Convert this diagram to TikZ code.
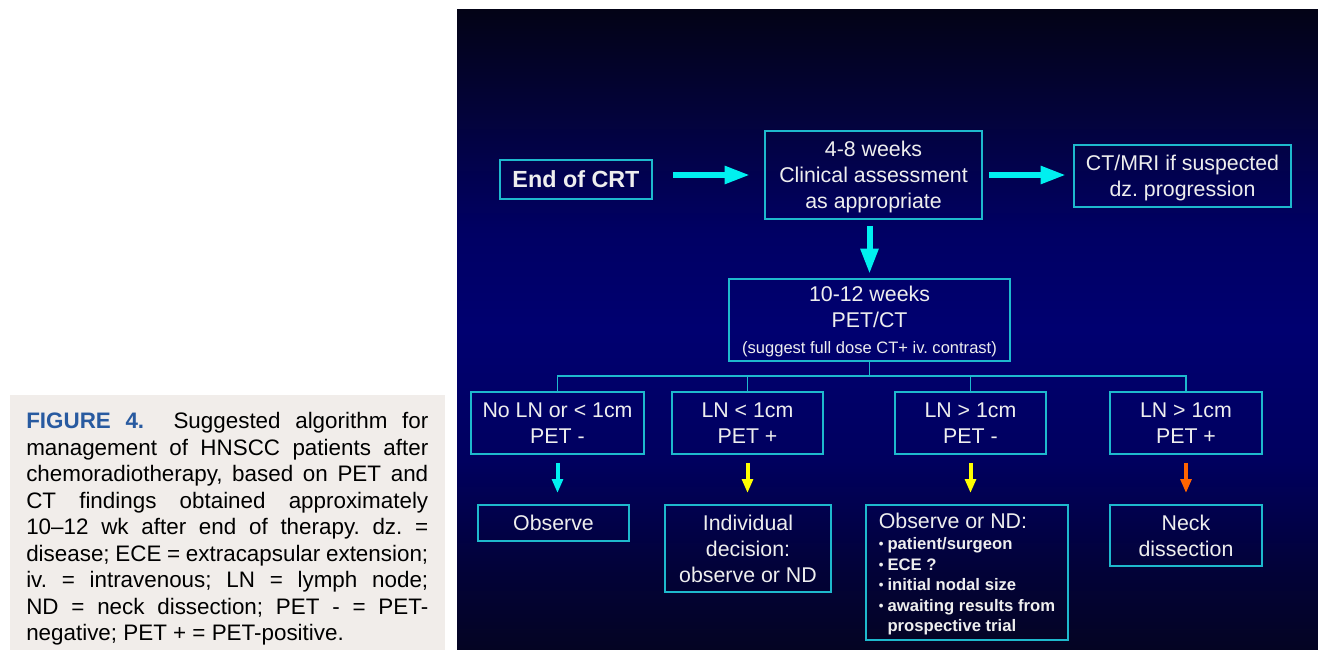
\documentclass[tikz,border=0pt]{standalone}
\usepackage{fontspec}
\setmainfont{Liberation Sans}
\usetikzlibrary{arrows.meta,calc}
\frenchspacing

\definecolor{capbg}{RGB}{241,237,234}
\definecolor{figblue}{RGB}{40,90,160}
\definecolor{boxline}{RGB}{30,185,205}
\definecolor{arrcyan}{RGB}{0,240,240}
\definecolor{arryellow}{RGB}{255,255,0}
\definecolor{arrorange}{RGB}{255,100,0}
\definecolor{slidetext}{RGB}{238,238,238}

% slide background, bottom (25bp) to top (75bp) of the path
\pgfdeclareverticalshading{slideshade}{100bp}{
	rgb(0bp)=(0.016,0.016,0.137);
	rgb(25bp)=(0.016,0.016,0.137);
	rgb(31bp)=(0.008,0.008,0.216);
	rgb(40bp)=(0,0,0.373);
	rgb(50bp)=(0,0,0.44);
	rgb(57.5bp)=(0,0,0.392);
	rgb(67.5bp)=(0.012,0.012,0.216);
	rgb(75bp)=(0.012,0.012,0.086);
	rgb(100bp)=(0.012,0.012,0.086)}

\newlength\capw
\setlength\capw{301.5pt}
\newcommand\capline[1]{\makebox[\capw][s]{#1}}
\newcommand\bulletfont{\fontsize{12.5}{15.4}\selectfont\bfseries}
\newcommand\dotmark{\raisebox{0.8pt}{\fontsize{10}{10}\selectfont\textbullet}}
% struts so that caps sit in the middle of each box
\newcommand\topstrut{\rule{0pt}{16.3pt}}
\newcommand\botstrut{\rule[-4.8pt]{0pt}{4.8pt}}

\tikzset{
	slidebox/.style={draw=boxline, line width=1.4pt, text=slidetext, align=center, inner sep=0pt, font=\fontsize{16}{19.5}\selectfont},
	bigarrow/.style={arrcyan, line width=4.5pt, -{Triangle[length=19pt,width=12.5pt]}},
	smallarrow/.style={line width=3pt, -{Triangle[length=10.5pt,width=8pt]}},
	treeline/.style={boxline, line width=1.4pt},
}

\begin{document}
\begin{tikzpicture}[x=0.75pt, y=-0.75pt]
		%%%%% START %%%%%
		\useasboundingbox (0,0) rectangle (1318,650);
		\fill[white] (0,0) rectangle (1318,650);
		
		% caption
		\fill[capbg] (10,395) rectangle (445,650);
		\node[anchor=north west, inner sep=0pt, align=left, font=\fontsize{16.8}{19.9}\selectfont] (caption) at (26,412) {%
			\capline{{\bfseries\color{figblue}FIGURE 4.}\ \ Suggested algorithm for}\\
			\capline{management of HNSCC patients after}\\
			\capline{chemoradiotherapy, based on PET and}\\
			\capline{CT findings obtained approximately}\\
			\capline{10–12 wk after end of therapy. dz. =}\\
			\capline{disease; ECE = extracapsular extension;}\\
			\capline{iv. = intravenous; LN = lymph node;}\\
			\capline{ND = neck dissection; PET - = PET-}\\
			negative; PET + = PET-positive.};
		
		% slide
		\shade[shading=slideshade] (457,9) rectangle (1318,650);
		
		\node[slidebox, minimum width=114pt, minimum height=29.25pt, font=\fontsize{17.5}{21}\selectfont\bfseries] (endcrt) at (576,179.5) {\topstrut End of CRT\botstrut};
		\node[slidebox, minimum width=162.75pt, minimum height=66pt] (assess) at (873.5,175) {\topstrut 4-8 weeks\\ Clinical assessment\\ as appropriate\botstrut};
		\node[slidebox, minimum width=162.75pt, minimum height=46.5pt] (ctmri) at (1182.5,176) {\topstrut CT/MRI if suspected\\ dz. progression\botstrut};
		\node[slidebox, minimum width=210.75pt, minimum height=61.5pt] (petct) at (869.5,320) {\topstrut 10-12 weeks\\ PET/CT\\ {\fontsize{12.4}{15}\selectfont (suggest full dose CT+ iv. contrast)}\botstrut};
		
		\node[slidebox, minimum width=129.75pt, minimum height=46.5pt] (lnA) at (557.5,423) {\topstrut No LN or < 1cm\\ PET -\botstrut};
		\node[slidebox, minimum width=113.25pt, minimum height=46.5pt] (lnB) at (747.5,423) {\topstrut LN < 1cm\\ PET +\botstrut};
		\node[slidebox, minimum width=113.25pt, minimum height=46.5pt] (lnC) at (970.5,423) {\topstrut LN > 1cm\\ PET -\botstrut};
		\node[slidebox, minimum width=114pt, minimum height=46.5pt] (lnD) at (1186,423) {\topstrut LN > 1cm\\ PET +\botstrut};
		
		\node[slidebox, minimum width=113.25pt, minimum height=27pt] (obs) at (553.5,523) {\topstrut Observe\botstrut};
		\node[slidebox, minimum width=124.5pt, minimum height=65.25pt] (indiv) at (748,548.5) {\topstrut Individual\\ decision:\\ observe or ND\botstrut};
		\node[slidebox, align=left, minimum width=151.5pt, minimum height=101.25pt] (obsnd) at (967,572.5) {\topstrut Observe or ND:\\[-3.75pt]
			{\bulletfont\begin{tabular}[t]{@{}l@{\hspace{3pt}}l@{}}
				\dotmark & patient/surgeon\\
				\dotmark & ECE ?\\
				\dotmark & initial nodal size\\
				\dotmark & awaiting results from\\
				& prospective trial
			\end{tabular}}};
		\node[slidebox, minimum width=114pt, minimum height=45.75pt] (neck) at (1186,535.5) {\topstrut Neck\\ dissection\botstrut};
		
		% arrows
		\draw[bigarrow] ([xshift=15pt]endcrt.east |- assess.west) -- ([xshift=-10.5pt]assess.west);
		\draw[bigarrow] ([xshift=4.5pt]assess.east) -- ([xshift=-5.25pt]ctmri.west |- assess.east);
		\draw[bigarrow] ([yshift=-4.5pt]petct.north |- assess.south) -- ([yshift=3pt]petct.north);
		
		\coordinate (split) at ($(petct.south)+(0,14)$);
		\draw[treeline] (petct.south) -- (split);
		\draw[treeline] (split) -| (lnA.north);
		\draw[treeline] (split) -| (lnB.north);
		\draw[treeline] (split) -| (lnC.north);
		\draw[treeline] (split) -| (lnD.north);
		
		\draw[smallarrow, arrcyan] ([yshift=-6pt]lnA.south) -- ([yshift=8.25pt]lnA.south |- obs.north);
		\draw[smallarrow, arryellow] ([yshift=-6pt]lnB.south) -- ([yshift=8.25pt]lnB.south |- indiv.north);
		\draw[smallarrow, arryellow] ([yshift=-6pt]lnC.south) -- ([yshift=8.25pt]lnC.south |- obsnd.north);
		\draw[smallarrow, arrorange] ([yshift=-6pt]lnD.south) -- ([yshift=8.25pt]lnD.south |- neck.north);
		%%%%% END %%%%%
\end{tikzpicture}
\end{document}
